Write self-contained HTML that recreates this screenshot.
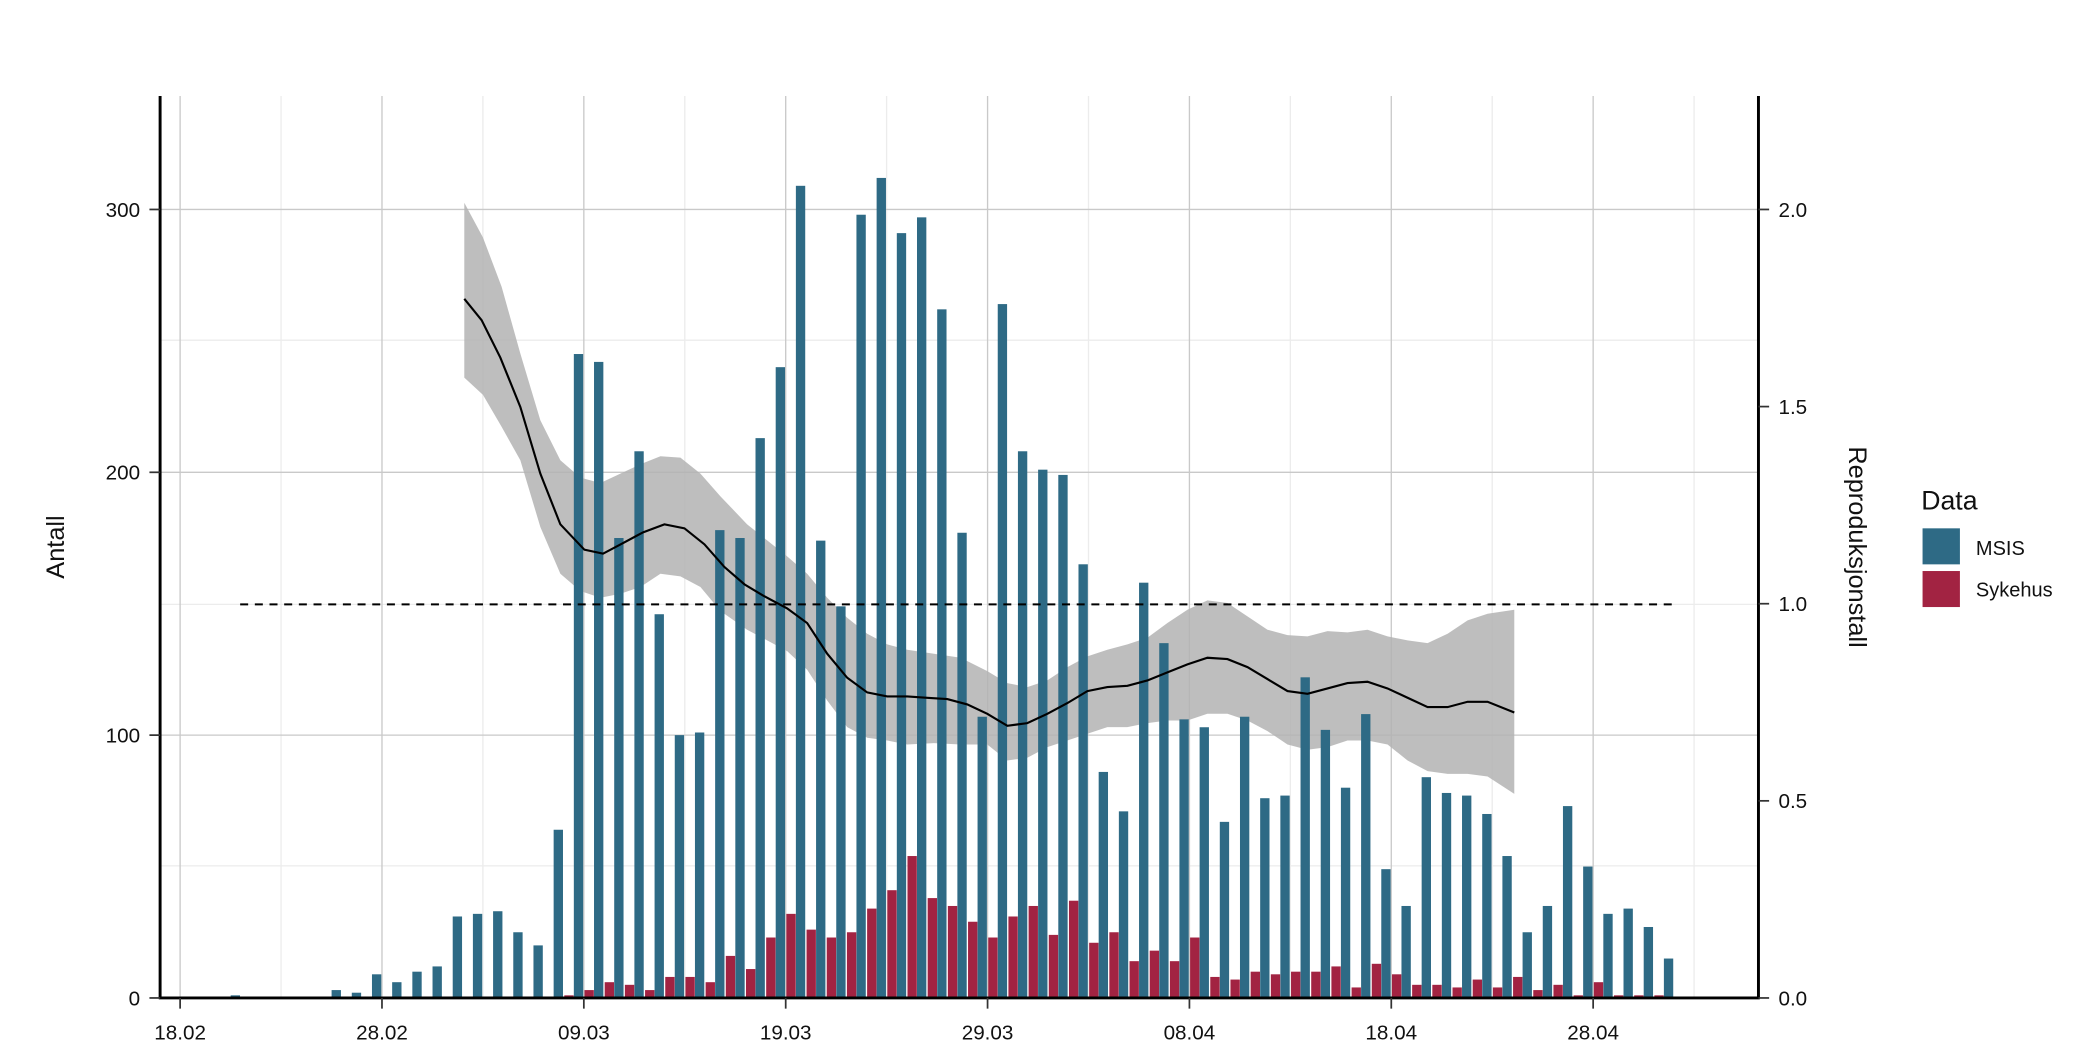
<!DOCTYPE html>
<html><head><meta charset="utf-8"><style>
html,body{margin:0;padding:0;background:#fff}
svg{display:block}
text{font-family:"Liberation Sans",sans-serif;fill:#111}
</style></head><body>
<svg id="s" width="2092" height="1058" viewBox="0 0 1568 793" preserveAspectRatio="none" xmlns="http://www.w3.org/2000/svg">
<g id="grid" stroke-width="1"></g>
<path id="rib" fill="#b3b3b3" fill-opacity="0.85" stroke="none"></path>
<g id="bars"></g>
<polyline id="rline" fill="none" stroke="#000" stroke-width="1.6"></polyline>
<line x1="180" y1="453" x2="1258" y2="453" stroke="#000" stroke-width="1.5" stroke-dasharray="6,5"/>
<g stroke="#000" stroke-width="2.2" fill="none">
<line x1="120" y1="72" x2="120" y2="748"/>
<line x1="1318" y1="72" x2="1318" y2="748"/>
<line x1="119" y1="748" x2="1319" y2="748"/>
</g>
<g id="ticks" stroke="#333" stroke-width="1.3"></g>
<g id="labels" font-size="15.5"></g>
<text x="48" y="410" font-size="19" text-anchor="middle" transform="rotate(-90 48 410)">Antall</text>
<text x="1386" y="410" font-size="19" text-anchor="middle" transform="rotate(90 1386 410)">Reproduksjonstall</text>
<text x="1440" y="382" font-size="20">Data</text>
<rect x="1441" y="396" width="28" height="27" fill="#2e6a85"/>
<rect x="1441" y="428" width="28" height="27" fill="#a22342"/>
<text x="1481" y="416" font-size="15">MSIS</text>
<text x="1481" y="447" font-size="15">Sykehus</text>
</svg>
<script>
const NS="http://www.w3.org/2000/svg";
function el(p,t,a,txt){const e=document.createElementNS(NS,t);for(const k in a)e.setAttribute(k,a[k]);if(txt!==undefined)e.textContent=txt;document.getElementById(p).appendChild(e);}
const X=d=>135+15.13*d, Y=v=>748-1.97*v;
[255,453,649].forEach(y=>{el("grid","line",{x1:120,x2:1318,y1:y,y2:y,stroke:"#ececec"})});
for(let i=0;i<8;i++){el("grid","line",{x1:X(i*10+5),x2:X(i*10+5),y1:72,y2:748,stroke:"#ececec"});}
[157,354,551].forEach(y=>el("grid","line",{x1:120,x2:1318,y1:y,y2:y,stroke:"#c9c9c9"}));
const dl=["18.02","28.02","09.03","19.03","29.03","08.04","18.04","28.04"];
dl.forEach((l,i)=>{const x=X(i*10);el("grid","line",{x1:x,x2:x,y1:72,y2:748,stroke:"#c9c9c9"});
el("ticks","line",{x1:x,x2:x,y1:748,y2:756});el("labels","text",{x:x,y:779,"text-anchor":"middle"},l);});
[[0,748],[100,551],[200,354],[300,157]].forEach(([v,y])=>{el("ticks","line",{x1:112,x2:120,y1:y,y2:y});el("labels","text",{x:105,y:y+5.5,"text-anchor":"end"},v);});
["0.0","0.5","1.0","1.5","2.0"].forEach((l,i)=>{const y=748-147.75*i;el("ticks","line",{x1:1318,x2:1326,y1:y,y2:y});el("labels","text",{x:1333,y:y+5.5},l);});
const m={3:1};const mv=[3,2,9,6,10,12,31,32,33,25,20,64,245,242,175,208,146,100,101,178,175,213,240,309,174,149,298,312,291,297,262,177,107,264,208,201,199,165,86,71,158,135,106,103,67,107,76,77,122,102,80,108,49,35,84,78,77,70,54,25,35,73,50,32,34,27,15];
mv.forEach((v,i)=>m[8+i]=v);
const rv=[1,3,6,5,3,8,8,6,16,11,23,32,26,23,25,34,41,54,38,35,29,23,31,35,24,37,21,25,14,18,14,23,8,7,10,9,10,10,12,4,13,9,5,5,4,7,4,8,3,5,1,6,1,1,1];
for(const d in m){const v=m[d];el("bars","rect",{x:X(+d)-7.5,y:Y(v),width:7,height:1.97*v,fill:"#2e6a85"});}
rv.forEach((v,i)=>{const d=19+i;el("bars","rect",{x:X(d)+0.5,y:Y(v),width:7,height:1.97*v,fill:"#a22342"});});
const ln=[[348,224],[361,240],[375,268],[390,305],[405,355],[420,393],[438,412],[452,415],[467,407],[482,399],[498,393],[513,396],[528,408],[543,425],[558,438],[573,447],[590,456],[605,467],[620,490],[635,508],[650,519],[665,522],[680,522],[695,523],[710,524],[725,528],[740,535],[755,544],[770,542],[785,535],[800,527],[815,518],[830,515],[845,514],[860,510],[875,504],[890,498],[905,493],[920,494],[935,500],[950,509],[965,518],[980,520],[995,516],[1010,512],[1025,511],[1040,516],[1055,523],[1070,530],[1085,530],[1100,526],[1115,526],[1135,534]];
const up=[[348,152],[362,178],[376,215],[390,265],[405,315],[420,345],[435,358],[450,362],[465,355],[480,348],[495,342],[510,343],[525,355],[540,372],[560,393],[575,405],[590,417],[605,430],[620,448],[635,463],[650,475],[665,483],[680,487],[700,490],[720,493],[740,503],[755,512],[770,515],[785,510],[800,500],[815,492],[830,487],[845,483],[860,478],[875,467],[890,457],[905,450],[920,452],[935,462],[950,472],[965,476],[980,477],[995,473],[1010,474],[1025,472],[1040,477],[1055,480],[1070,482],[1085,475],[1100,465],[1115,460],[1135,457]];
const lo=[[348,283],[362,296],[376,320],[390,345],[405,395],[420,430],[435,443],[450,448],[465,445],[480,440],[495,430],[510,432],[525,440],[540,458],[560,472],[575,480],[590,488],[605,502],[620,525],[635,545],[650,553],[665,555],[680,558],[700,557],[720,558],[740,558],[755,570],[770,568],[785,560],[800,555],[815,550],[830,545],[845,545],[860,542],[875,540],[890,540],[905,535],[920,535],[935,540],[950,548],[965,558],[980,562],[995,560],[1010,555],[1025,555],[1040,558],[1055,570],[1070,578],[1085,580],[1100,580],[1115,582],[1135,595]];
document.getElementById("rib").setAttribute("d","M"+up.map(p=>p.join(",")).join(" L")+" L"+lo.slice().reverse().map(p=>p.join(",")).join(" L")+"Z");
document.getElementById("rline").setAttribute("points",ln.map(p=>p.join(",")).join(" "));
</script>
</body></html>
